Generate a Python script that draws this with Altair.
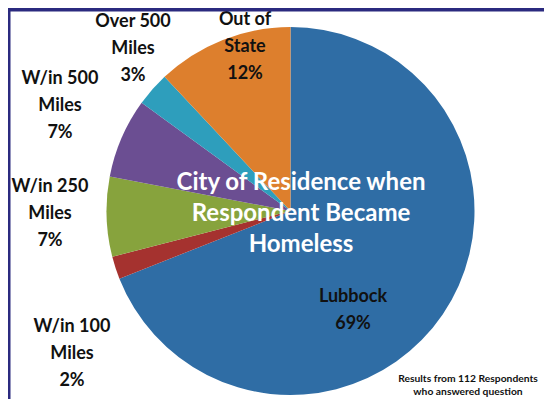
import altair as alt
import pandas as pd

# ---- data ----
categories = ["Lubbock", "W/in 100 Miles", "W/in 250 Miles", "W/in 500 Miles", "Over 500 Miles", "Out of State"]
values = [69, 2, 7, 7, 3, 12]
label_lines = [["Lubbock"], ["W/in 100", "Miles"], ["W/in 250", "Miles"], ["W/in 500", "Miles"], ["Over 500", "Miles"], ["Out of", "State"]]
colors = ["#2F6DA5", "#A5322F", "#87A33D", "#6B4E92", "#2E9EBC", "#DD7F2D"]
title_lines = ["City of Residence when", "Respondent Became", "Homeless"]
note_lines = ["Results from 112 Respondents", "who answered question"]

# ---- layout (pixel positions: first-line centre, page coordinates) ----
OFF = 8
label_pos = [(353, 297), (72, 327), (50, 187), (60, 79), (133, 22), (245, 20)]
center = (290.5 - OFF, 211 - OFF)
radius = 184

df = pd.DataFrame({"category": categories, "value": values, "order": list(range(len(values)))})

W, H = 536, 391

pie = alt.Chart(df).mark_arc(outerRadius=radius, stroke=None).encode(
    theta=alt.Theta("value:Q", stack=True),
    color=alt.Color("category:N", scale=alt.Scale(domain=categories, range=colors), legend=None),
    order=alt.Order("order:Q"),
    x=alt.value(center[0]),
    y=alt.value(center[1]),
)

lab_df = pd.DataFrame({
    "text": ["\n".join(l + [f"{v}%"]) for l, v in zip(label_lines, values)],
    "x": [p[0] - OFF for p in label_pos],
    "y": [p[1] - OFF for p in label_pos],
})
labels = alt.Chart(lab_df).mark_text(
    font="Lato", fontWeight="bold", fontSize=18, color="#111111",
    align="center", baseline="middle", lineBreak="\n", lineHeight=27,
).encode(
    x=alt.X("x:Q", scale=None), y=alt.Y("y:Q", scale=None), text="text:N"
)

title_df = pd.DataFrame({"text": ["\n".join(title_lines)], "x": [301 - OFF], "y": [183 - OFF]})
title = alt.Chart(title_df).mark_text(
    font="Lato", fontWeight="bold", fontSize=24, color="white",
    align="center", baseline="middle", lineBreak="\n", lineHeight=31,
).encode(x=alt.X("x:Q", scale=None), y=alt.Y("y:Q", scale=None), text="text:N")

note_df = pd.DataFrame({"text": ["\n".join(note_lines)], "x": [468 - OFF], "y": [379 - OFF]})
note = alt.Chart(note_df).mark_text(
    font="Lato", fontWeight="bold", fontSize=10.3, color="#111111",
    align="center", baseline="middle", lineBreak="\n", lineHeight=13,
).encode(x=alt.X("x:Q", scale=None), y=alt.Y("y:Q", scale=None), text="text:N")

frame_df = pd.DataFrame({"x": [0, 0], "x2": [2.5, W], "y": [0, 0], "y2": [H, 3.5]})
frame = alt.Chart(frame_df).mark_rect(color="#2B2A7F").encode(
    x=alt.X("x:Q", scale=None), x2="x2:Q", y=alt.Y("y:Q", scale=None), y2="y2:Q"
)

chart = alt.layer(pie, title, labels, note, frame).properties(
    width=W, height=H, padding=0, autosize=alt.AutoSizeParams(type="none")
).configure_view(stroke=None).configure(background="white")

chart.save("out.html", embed_options={"renderer": "svg", "actions": False})
